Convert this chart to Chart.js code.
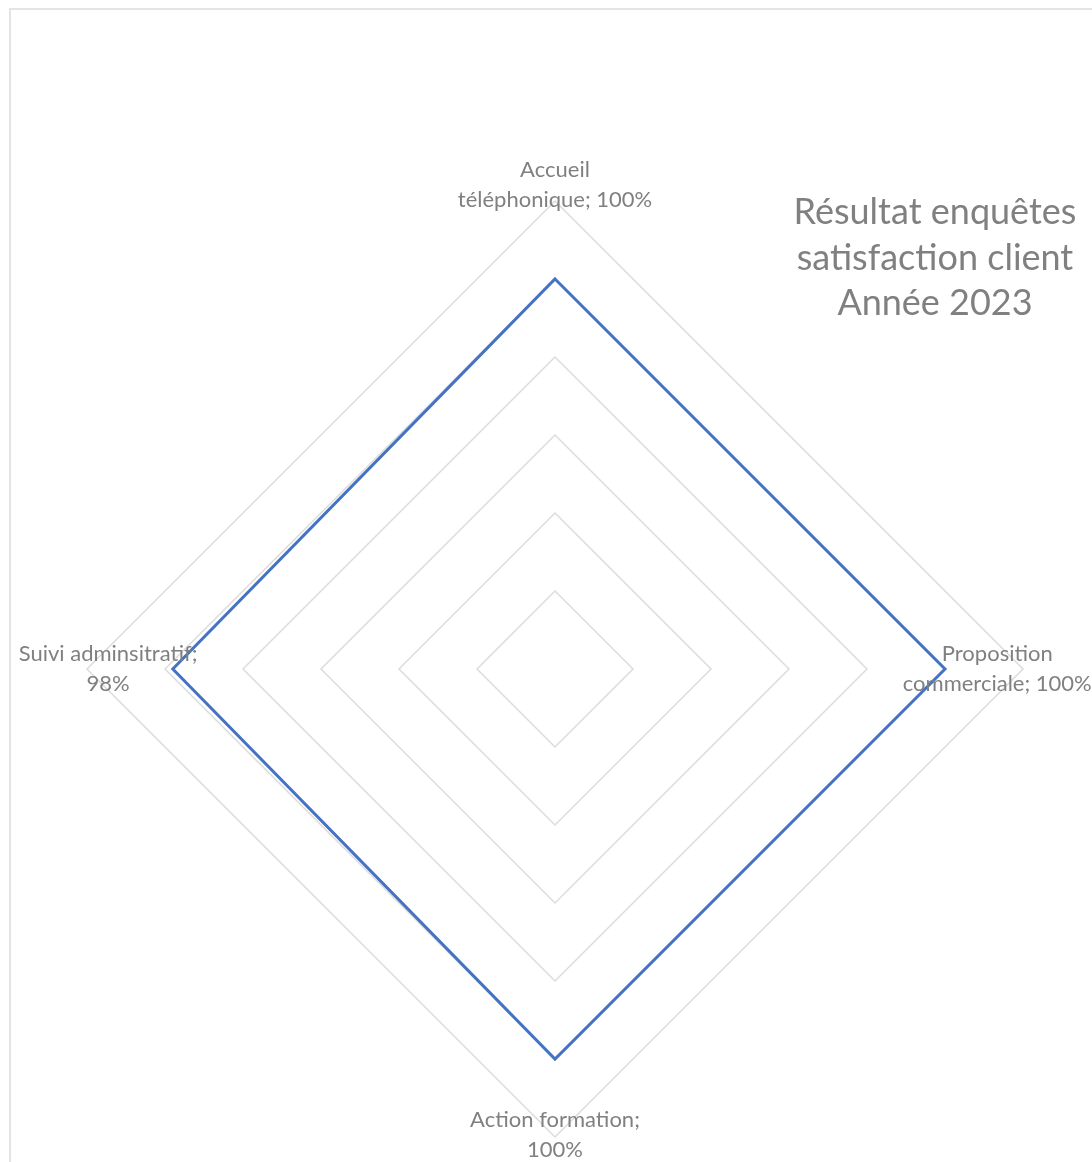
<!DOCTYPE html>
<html lang="fr">
<head>
<meta charset="utf-8">
<title>Résultat enquêtes satisfaction client</title>
<script src="https://cdn.jsdelivr.net/npm/chart.js@4.4.1/dist/chart.umd.min.js"></script>
<style>
    html, body { margin: 0; padding: 0; background: #fff; width: 1092px; height: 1162px; overflow: hidden; }
    #frame { position: absolute; left: 9px; top: 8px; width: 1200px; height: 1300px; border-left: 2px solid #e4e4e4; border-top: 2px solid #e4e4e4; }
    #wrap { position: absolute; left: 0; top: 0; width: 1092px; height: 1162px; }
    #title { position: absolute; left: 775px; top: 188px; width: 320px; text-align: center; font-family: Lato, sans-serif; font-size: 36px; line-height: 45.5px; color: #808080; }
</style>
</head>
<body>
<div id="frame"></div>
<div id="wrap"><canvas id="radarChart"></canvas></div>
<div id="title">Résultat enquêtes<br>satisfaction client<br>Année 2023</div>
<script>
// categories clockwise from the top; "\n" marks where the label wraps
const categories = ['Accueil\ntéléphonique', 'Proposition\ncommerciale', 'Action formation', 'Suivi adminsitratif'];
const scores = [1.00, 1.00, 1.00, 0.98];
const scaleMax = 1.2;
const scaleStep = 0.2;

function labelLines(name, value) {
    const pct = Math.round(value * 100) + '%';
    const text = name.includes('\n') ? name + '; ' + pct : name + ';\n' + pct;
    return text.split('\n');
}

const dataLabels = {
    id: 'dataLabels',
    afterDatasetsDraw(chart, args, opts) {
        const scale = chart.scales.r;
        const ctx = chart.ctx;
        ctx.save();
        ctx.font = opts.font;
        ctx.fillStyle = opts.color;
        ctx.textAlign = 'center';
        ctx.textBaseline = 'middle';
        chart.data.datasets[0].data.forEach((v, i) => {
            const lines = labelLines(categories[i], v);
            const pos = scale.getPointPosition(i, scale.drawingArea * opts.radius[i]);
            const y0 = pos.y - (lines.length - 1) * opts.lineHeight / 2;
            lines.forEach((line, k) => ctx.fillText(line, pos.x, y0 + k * opts.lineHeight));
        });
        ctx.restore();
    }
};

function initializeChart() {
    const ctx = document.getElementById('radarChart');
    new Chart(ctx, {
        type: 'radar',
        data: {
            labels: categories.map(c => c.replace('\n', ' ')),
            datasets: [{
                label: 'Satisfaction',
                data: scores,
                borderColor: '#4472c4',
                backgroundColor: 'rgba(0, 0, 0, 0)',
                borderWidth: 3,
                pointRadius: 0,
                fill: false,
                tension: 0
            }]
        },
        options: {
            responsive: true,
            maintainAspectRatio: false,
            animation: false,
            layout: {
                padding: { left: 87, top: 201, right: 69, bottom: 25 }
            },
            plugins: {
                legend: { display: false },
                tooltip: { enabled: false },
                dataLabels: {
                    font: '22px Lato',
                    color: '#808080',
                    lineHeight: 29.5,
                    radius: [1.034, 0.945, 0.996, 0.955]
                }
            },
            scales: {
                r: {
                    min: 0,
                    max: scaleMax,
                    ticks: { display: false, stepSize: scaleStep },
                    grid: { color: '#dcdcdc', lineWidth: 1.5 },
                    angleLines: { display: false },
                    pointLabels: { display: false }
                }
            }
        },
        plugins: [dataLabels]
    });
}

window.addEventListener('load', initializeChart);
</script>
</body>
</html>
